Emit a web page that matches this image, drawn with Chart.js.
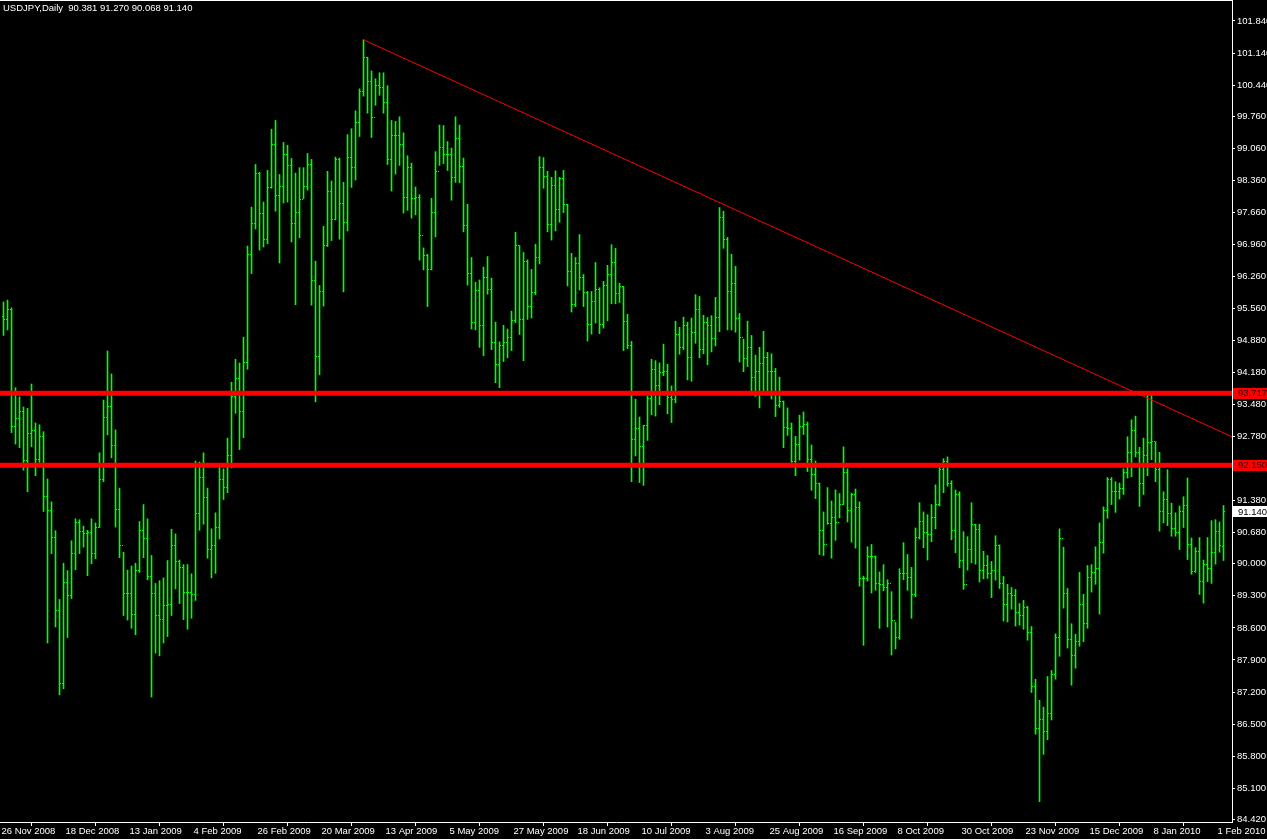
<!DOCTYPE html>
<html><head><meta charset="utf-8">
<script src="https://cdn.jsdelivr.net/npm/chart.js@4.4.1/dist/chart.umd.min.js"></script>
<style>
html,body{margin:0;padding:0;background:#000;overflow:hidden;}
#wrap{position:relative;width:1267px;height:839px;}
#title{position:absolute;left:3px;top:2px;color:#fff;font:9.5px "Liberation Sans",Arial,sans-serif;white-space:pre;}
</style></head><body>
<div id="wrap"><canvas id="c"></canvas><div id="title">USDJPY,Daily  90.381 91.270 90.068 91.140</div></div>
<script>
// ---- data (USDJPY daily, one bar per trading day starting 27 Nov 2008) ----
const highs = [
95.71,95.75,95.58,93.84,93.64,93.42,93.39,93.92,93.07,93.03,
92.88,91.85,91.35,90.72,89.22,90.01,89.85,90.50,90.98,90.96,
90.82,90.73,90.98,90.89,92.42,93.57,94.64,94.14,92.92,91.65,
90.25,89.86,89.95,90.01,90.92,91.29,90.98,90.18,89.57,89.63,
89.69,90.07,90.75,90.65,90.08,89.98,89.98,89.78,92.24,92.22,
92.42,91.65,90.76,91.11,92.10,92.07,92.74,93.96,94.46,94.38,
94.94,96.93,97.78,98.71,98.54,97.89,98.58,99.48,99.67,98.49,
99.19,99.13,98.84,98.52,98.64,98.64,98.95,98.82,96.60,96.07,
97.36,98.56,98.35,98.87,98.85,98.32,99.36,99.49,99.88,100.36,
101.43,101.05,100.75,100.58,100.71,100.71,100.43,99.67,99.65,99.75,
99.40,98.90,98.74,98.22,98.05,96.89,96.75,97.97,98.99,99.57,
99.56,99.21,99.07,99.75,99.57,98.85,97.84,96.68,96.14,96.19,
96.47,96.70,96.23,95.27,94.84,95.20,95.12,95.51,97.23,96.94,
96.79,96.63,96.42,96.97,98.88,98.86,98.56,98.43,98.57,98.43,
98.58,97.84,96.77,96.68,97.18,96.31,95.94,95.94,96.57,96.02,
96.16,96.51,96.96,96.88,96.12,96.05,95.44,94.85,93.59,93.20,
93.02,93.66,94.46,94.43,94.38,94.79,94.35,93.88,95.29,95.16,
95.38,95.27,95.36,95.87,95.83,95.42,95.37,95.41,95.81,97.77,
97.69,97.12,96.75,96.49,95.46,94.90,95.29,94.98,94.55,94.72,
95.07,94.61,94.58,94.26,94.07,93.55,93.40,93.07,92.78,93.24,
93.31,93.09,92.59,92.24,91.76,91.13,91.66,91.37,91.61,91.53,
92.55,92.07,91.54,91.63,91.35,89.73,90.37,90.42,90.17,89.82,
89.98,89.65,89.39,88.72,89.89,90.46,90.20,89.92,90.78,91.33,
91.13,91.07,91.29,91.72,92.12,92.29,92.33,91.81,91.61,91.57,
90.70,90.59,91.33,90.86,90.86,90.27,90.18,90.05,90.61,90.41,
89.72,89.55,89.48,89.44,89.13,89.20,89.07,88.63,87.48,87.02,
86.87,87.54,87.67,88.47,90.76,90.36,89.46,88.69,88.46,89.81,
89.33,89.96,89.98,90.37,90.89,91.24,91.88,91.88,91.79,91.76,
92.07,92.77,93.14,93.22,92.54,92.74,93.68,93.70,92.66,92.43,
91.57,92.05,91.32,91.11,91.26,91.46,91.87,90.56,90.35,90.57,
90.08,90.57,90.94,90.96,90.91,91.27];
const lows = [
94.98,95.10,92.86,92.61,92.53,92.04,91.57,92.55,91.92,92.21,
91.14,88.27,90.22,88.62,87.14,87.27,88.39,89.24,89.87,90.22,
90.36,89.74,90.00,90.11,90.79,91.79,92.81,92.31,90.80,90.13,
88.87,88.77,88.59,88.45,89.81,90.13,89.65,87.09,88.05,87.99,
88.27,88.41,88.87,89.45,89.13,88.78,88.57,88.81,89.20,90.73,
90.86,90.12,89.69,89.79,90.54,91.40,91.55,92.09,93.28,92.49,
92.75,94.24,96.33,97.30,96.84,96.91,96.98,98.19,97.69,96.56,
97.87,97.89,97.02,95.65,97.11,97.96,98.15,95.64,93.53,94.12,
95.62,96.92,97.05,97.50,97.08,95.93,97.26,98.21,98.37,99.32,
100.20,99.83,99.30,100.00,100.22,99.83,98.71,98.13,98.50,98.69,
97.65,97.71,97.54,97.61,96.62,96.41,95.61,96.41,97.13,98.69,
98.73,98.58,97.93,98.32,98.31,97.24,96.08,95.12,95.10,94.72,
94.54,95.88,94.67,93.95,93.84,94.41,94.49,94.65,95.26,95.00,
94.43,95.33,95.36,95.87,96.54,98.19,97.24,97.06,97.26,97.45,
97.66,96.06,95.49,95.61,95.97,95.61,94.86,95.01,95.25,95.02,
95.14,95.30,95.67,95.67,95.70,94.65,94.69,91.79,92.35,91.77,
91.71,92.69,93.25,93.22,93.47,94.10,93.27,93.08,93.51,94.57,
94.67,94.01,93.98,94.81,94.49,94.58,94.34,94.62,94.75,95.06,
96.88,95.10,95.10,95.05,94.40,94.19,94.30,93.75,93.65,93.40,
93.76,93.76,93.59,93.21,93.41,92.53,92.80,92.21,91.92,92.26,
92.82,92.01,91.60,91.42,90.20,90.18,90.86,90.12,90.51,91.00,
91.29,90.91,90.47,90.34,89.51,88.22,89.62,89.36,89.42,88.59,
89.41,88.62,88.01,88.14,88.35,89.65,89.42,88.81,89.28,90.54,
90.35,90.08,90.48,90.76,91.26,91.55,91.69,90.52,90.24,89.91,
89.44,89.86,90.02,89.99,89.60,89.67,89.68,89.26,89.64,89.46,
88.75,88.73,89.01,88.64,88.66,88.57,88.33,87.19,86.28,84.81,
85.84,86.16,86.59,87.48,87.98,89.03,88.16,87.35,87.72,88.20,
88.30,88.59,89.38,89.55,88.90,90.23,90.99,91.29,91.12,91.41,
91.51,91.87,91.90,92.33,91.25,91.51,91.92,92.27,91.79,90.71,
90.89,90.83,90.60,90.60,90.31,90.79,90.09,89.77,89.81,89.33,
89.14,89.61,89.57,89.99,90.25,90.07];
const opens = [
95.40,95.33,95.54,92.99,93.16,93.31,92.26,92.84,92.91,92.28,
92.78,91.46,91.17,90.58,88.99,87.38,89.58,89.31,90.23,90.89,
90.71,90.66,90.69,90.22,90.78,91.83,93.19,93.44,92.57,91.19,
90.39,89.34,89.35,88.90,89.86,90.73,90.54,89.71,89.36,88.86,
88.78,89.08,89.11,90.40,90.04,89.91,89.38,89.38,89.32,91.10,
91.89,91.45,90.32,90.39,90.79,91.84,91.67,92.37,93.64,94.04,
93.33,94.38,96.74,97.42,98.51,97.63,97.08,98.20,99.14,98.04,
98.24,98.93,98.69,97.42,97.66,97.94,98.24,98.70,96.18,94.52,
95.94,96.94,98.11,97.50,98.82,97.86,97.44,98.87,98.64,99.63,
100.30,101.05,100.53,99.73,100.44,100.38,100.07,98.81,99.35,99.35,
99.14,98.00,98.64,97.96,98.00,97.15,96.73,96.41,97.66,98.56,
99.09,98.92,98.92,98.43,99.27,98.66,97.37,96.33,95.26,95.96,
95.20,96.24,95.98,94.83,94.35,94.75,94.82,94.93,95.30,96.95,
95.32,96.59,95.62,95.92,96.68,98.64,98.45,97.39,98.25,97.72,
98.41,97.83,96.37,95.65,96.55,96.25,95.91,95.22,95.72,95.99,
95.22,96.07,96.30,96.57,95.90,96.05,95.29,94.75,92.70,92.96,
92.56,93.02,93.61,94.24,93.88,94.17,94.20,93.63,93.58,95.01,
94.72,95.19,94.50,95.04,95.55,94.68,95.26,95.20,94.91,95.38,
97.55,97.07,95.94,96.12,95.35,94.93,94.48,94.72,94.07,94.19,
94.37,94.50,94.20,94.19,93.45,93.53,92.97,92.94,92.23,92.61,
92.99,93.03,92.28,91.95,91.74,90.72,90.41,90.87,91.00,90.90,
91.29,92.00,91.15,91.50,91.23,89.67,89.68,90.15,90.15,89.57,
89.55,89.48,89.57,88.77,88.39,89.78,89.78,89.69,89.32,90.57,
90.91,90.68,90.63,91.00,91.30,92.05,92.24,91.76,90.73,91.52,
90.08,89.55,90.32,90.85,90.75,89.86,89.97,89.78,89.86,90.39,
89.56,89.12,89.35,89.30,88.93,88.86,89.05,88.51,87.32,86.40,
86.60,86.34,86.74,87.59,88.39,90.54,89.36,88.35,88.00,88.31,
89.10,88.70,89.69,89.80,89.89,90.47,91.15,91.83,91.58,91.58,
91.65,91.99,92.43,92.90,92.42,91.74,92.35,92.65,92.66,92.05,
91.13,91.39,91.09,90.76,90.67,91.13,91.27,90.41,89.82,90.26,
89.62,89.99,89.89,90.24,90.71,90.38];
const closes = [
95.33,95.54,92.99,93.16,93.31,92.26,92.84,92.91,92.28,92.78,
91.46,91.17,90.58,88.99,87.38,89.58,89.31,90.23,90.89,90.71,
90.66,90.69,90.22,90.78,91.83,93.19,93.44,92.57,91.19,90.39,
89.34,89.35,88.90,89.86,90.73,90.54,89.71,89.36,88.86,88.78,
89.08,89.11,90.40,90.04,89.91,89.38,89.38,89.32,91.10,91.89,
91.45,90.32,90.39,90.79,91.84,91.67,92.37,93.64,94.04,93.33,
94.38,96.74,97.42,98.51,97.63,97.08,98.20,99.14,98.04,98.24,
98.93,98.69,97.42,97.66,97.94,98.24,98.70,96.18,94.52,95.94,
96.94,98.11,97.50,98.82,97.86,97.44,98.87,98.64,99.63,100.30,
101.05,100.53,99.73,100.44,100.38,100.07,98.81,99.35,99.35,99.14,
98.00,98.64,97.96,98.00,97.15,96.73,96.41,97.66,98.56,99.09,
98.92,98.92,98.43,99.27,98.66,97.37,96.33,95.26,95.96,95.20,
96.24,95.98,94.83,94.35,94.75,94.82,94.93,95.30,96.95,95.32,
96.59,95.62,95.92,96.68,98.64,98.45,97.39,98.25,97.72,98.41,
97.83,96.37,95.65,96.55,96.25,95.91,95.22,95.72,95.99,95.22,
96.07,96.30,96.57,95.90,96.05,95.29,94.75,92.70,92.96,92.56,
93.02,93.61,94.24,93.88,94.17,94.20,93.63,93.58,95.01,94.72,
95.19,94.50,95.04,95.55,94.68,95.26,95.20,94.91,95.38,97.55,
97.07,95.94,96.12,95.35,94.93,94.48,94.72,94.07,94.19,94.37,
94.50,94.20,94.19,93.45,93.53,92.97,92.94,92.23,92.61,92.99,
93.03,92.28,91.95,91.74,90.72,90.41,90.87,91.00,90.90,91.29,
92.00,91.15,91.50,91.23,89.67,89.68,90.15,90.15,89.57,89.55,
89.48,89.57,88.77,88.39,89.78,89.78,89.69,89.32,90.57,90.91,
90.68,90.63,91.00,91.30,92.05,92.24,91.76,90.73,91.52,90.08,
89.55,90.32,90.85,90.75,89.86,89.97,89.78,89.86,90.39,89.56,
89.12,89.35,89.30,88.93,88.86,89.05,88.51,87.32,86.40,86.60,
86.34,86.74,87.59,88.39,90.54,89.36,88.35,88.00,88.31,89.10,
88.70,89.69,89.80,89.89,90.47,91.15,91.83,91.58,91.58,91.65,
91.99,92.43,92.90,92.42,91.74,92.35,92.65,92.66,92.05,91.13,
91.39,91.09,90.76,90.67,91.13,91.27,90.41,89.82,90.26,89.62,
89.99,89.89,90.24,90.71,90.39,91.14];

const supportLevels = [93.717, 92.150];
const lastPrice = 91.140;
const trendBars = [90, 307.1];
const trendPrices = [101.43, 92.77];
const yTickValues = [101.84,101.14,100.44,99.76,99.06,98.36,97.66,96.96,96.26,95.56,94.88,94.18,93.48,92.78,91.38,90.68,90.00,89.30,88.60,87.90,87.20,86.50,85.80,85.10,84.42];
const xTickLabels = ['26 Nov 2008','18 Dec 2008','13 Jan 2009','4 Feb 2009','26 Feb 2009','20 Mar 2009','13 Apr 2009','5 May 2009','27 May 2009','18 Jun 2009','10 Jul 2009','3 Aug 2009','25 Aug 2009','16 Sep 2009','8 Oct 2009','30 Oct 2009','23 Nov 2009','15 Dec 2009','8 Jan 2010','1 Feb 2010'];
const startDate = '2008-11-26';
const closedDays = ['25 Dec','1 Jan'];

// ---- trading calendar (barDates[0] is the day before the first bar) ----
const MONTHS=['Jan','Feb','Mar','Apr','May','Jun','Jul','Aug','Sep','Oct','Nov','Dec'];
const barDates=[];
{ const d=new Date(startDate+'T00:00:00Z');
  while(barDates.length < highs.length+2){
    const wd=d.getUTCDay(); const s=d.getUTCDate()+' '+MONTHS[d.getUTCMonth()];
    if(wd!==0 && wd!==6 && !closedDays.includes(s)) barDates.push(s+' '+d.getUTCFullYear());
    d.setUTCDate(d.getUTCDate()+1);
  }
}
const labelOfBar = v => barDates[Math.round(v)+1] || '';
const xTickBars = xTickLabels.map(l => barDates.indexOf(l)-1);

const FONT = {family:'"Liberation Sans", Arial, sans-serif', size:9.5};
const X_MIN = -0.875, X_MAX = 307.125;
const Y_MIN = 84.365, Y_MAX = 102.276;

const ohlcTicks = {
  id:'ohlcTicks',
  afterDatasetDraw(chart, args){
    if(args.index!==0) return;
    const c=chart.ctx, xs=chart.scales.x, ys=chart.scales.y;
    c.save(); c.fillStyle='#00ff00';
    for(let i=0;i<highs.length;i++){
      const px=Math.round(xs.getPixelForValue(i)-0.5);
      c.fillRect(px-1, Math.round(ys.getPixelForValue(opens[i])-0.5), 1, 1);
      c.fillRect(px+1, Math.round(ys.getPixelForValue(closes[i])-0.5), 1, 1);
    }
    c.restore();
  }
};
const frame = {
  id:'frame',
  afterDraw(chart){
    const c=chart.ctx, ys=chart.scales.y, a=chart.chartArea;
    c.save();
    c.fillStyle='#ffffff'; c.fillRect(0,0,a.right+1,1);
    c.font='9.5px "Liberation Sans", Arial, sans-serif'; c.textBaseline='middle'; c.textAlign='left';
    const box=(p,bg,fg)=>{
      const y=ys.getPixelForValue(p);
      c.fillStyle=bg; c.fillRect(a.right+1, Math.round(y)-5, 40, 11);
      c.fillStyle=fg; c.fillText(p.toFixed(3), a.right+6, y+0.5);
    };
    supportLevels.forEach(p=>box(p,'#ff0000','#300000'));
    box(lastPrice,'#ffffff','#000000');
    c.restore();
  }
};

const datasets = [
  {type:'bar', data: highs.map((h,i)=>({x:i, y:[lows[i],h]})), backgroundColor:'#00ff00', borderWidth:0, barThickness:1, order:5},
  {type:'line', data: trendBars.map((b,i)=>({x:b, y:trendPrices[i]})), borderColor:'#ff0000', borderWidth:1, pointRadius:0, order:1},
  ...supportLevels.map(p=>({type:'line', data:[{x:X_MIN,y:p},{x:X_MAX,y:p}], borderColor:'#ff0000', borderWidth:5, pointRadius:0, order:1}))
];

new Chart(document.getElementById('c'), {
  type:'bar',
  data:{datasets},
  options:{
    responsive:true, maintainAspectRatio:false, animation:false, events:[],
    devicePixelRatio:1,
    layout:{padding:{top:1,left:0,right:0,bottom:0}},
    plugins:{legend:{display:false}, tooltip:{enabled:false}},
    scales:{
      x:{type:'linear', min:X_MIN, max:X_MAX, offset:false,
        afterFit(s){s.height=17; s.paddingLeft=0; s.paddingRight=0;},
        afterBuildTicks(s){s.ticks=xTickBars.map(v=>({value:v}));},
        ticks:{color:'#ffffff', font:FONT, align:'start', labelOffset:2, padding:0, maxRotation:0, minRotation:0, autoSkip:false, callback:v=>labelOfBar(v)},
        grid:{drawOnChartArea:false, color:'#ffffff', tickLength:4},
        border:{display:true, color:'#ffffff', width:1}
      },
      y:{position:'right', min:Y_MIN, max:Y_MAX,
        afterFit(s){s.width=35; s.paddingTop=0; s.paddingBottom=0;},
        afterBuildTicks(s){s.ticks=yTickValues.map(v=>({value:v}));},
        ticks:{color:'#ffffff', font:FONT, padding:2, autoSkip:false, callback:v=>Number(v).toFixed(3)},
        grid:{drawOnChartArea:false, color:'#ffffff', tickLength:3},
        border:{display:true, color:'#ffffff', width:1}
      }
    }
  },
  plugins:[ohlcTicks, frame]
});
</script>
</body></html>
